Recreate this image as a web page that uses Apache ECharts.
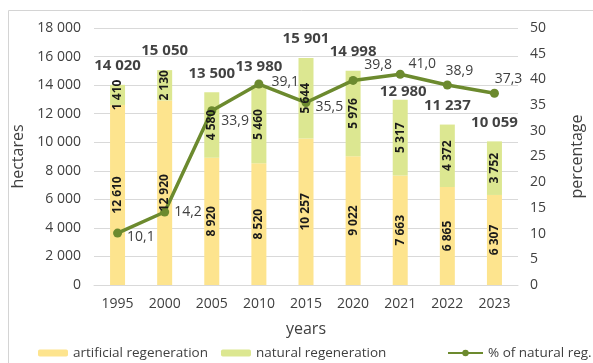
<!DOCTYPE html>
<html><head><meta charset="utf-8">
<script src="https://cdn.jsdelivr.net/npm/echarts@6/dist/echarts.min.js"></script>
<style>html,body{margin:0;padding:0;background:#fff}#c{width:593px;height:363px}</style>
</head><body><div id="c"></div>
<script>
const years = ['1995','2000','2005','2010','2015','2020','2021','2022','2023'];
const artificial = [12610, 12920, 8920, 8520, 10257, 9022, 7663, 6865, 6307];
const natural = [1410, 2130, 4580, 5460, 5644, 5976, 5317, 4372, 3752];
const totals = [14020, 15050, 13500, 13980, 15901, 14998, 12980, 11237, 10059];
const pctNatural = [10.1, 14.2, 33.9, 39.1, 35.5, 39.8, 41.0, 38.9, 37.3];

const FONT = 'Open Sans';
const fmtNum = v => String(v).replace(/\B(?=(\d{3})+(?!\d))/g, ' ');
const fmtPct = v => v.toFixed(1).replace('.', ',');

const pctLabelStyle = [
  {position:'right', offset:[0,4]},
  {position:'right', offset:[0,0]},
  {position:'right', offset:[0,10]},
  {position:'right', offset:[3,-2]},
  {position:'right', offset:[0,4]},
  {position:'top', offset:[25,1]},
  {position:'top', offset:[22,6]},
  {position:'top', offset:[12,2]},
  {position:'top', offset:[14,2]}
];
const totalOffsets = [[0,0],[0,0],[0,0],[0,0],[0,0],[0,0],[3,11],[0,0],[0,0]];

const barLabel = {show:true, position:'inside', rotate:90, fontFamily:FONT, fontWeight:'bold', fontSize:12, color:'#1a1a1a', formatter:p=>fmtNum(p.value)};
const chart = echarts.init(document.getElementById('c'), null, {renderer:'canvas'});
chart.setOption({
  animation:false,
  textStyle:{fontFamily:FONT},
  graphic:[{type:'rect', shape:{x:8.5,y:10.5,width:600,height:400}, style:{fill:'none',stroke:'#d4d4d4',lineWidth:1}, silent:true}],
  grid:{left:94, right:57, top:28, bottom:78},
  legend:[
    {data:['artificial regeneration','natural regeneration'], left:33, top:341, itemWidth:30, itemHeight:7, itemGap:13,
     textStyle:{fontFamily:FONT,fontSize:13.5,color:'#404040'}},
    {data:['% of natural reg.'], left:442, top:341, itemWidth:35, itemHeight:8,
     textStyle:{fontFamily:FONT,fontSize:13.5,color:'#404040'}}
  ],
  xAxis:{type:'category', data:years, name:'years', nameLocation:'middle', nameGap:36,
    nameTextStyle:{fontFamily:FONT,fontSize:16,color:'#404040'},
    axisLine:{lineStyle:{color:'#d9d9d9'}}, axisTick:{show:false},
    axisLabel:{fontFamily:FONT,fontSize:14,color:'#404040',margin:12}},
  yAxis:[
    {type:'value', min:0, max:18000, interval:2000, name:'hectares', nameLocation:'middle', nameGap:68,
     nameTextStyle:{fontFamily:FONT,fontSize:16,color:'#404040'},
     axisLabel:{fontFamily:FONT,fontSize:14,color:'#404040',margin:13, formatter:fmtNum},
     splitLine:{lineStyle:{color:'#d9d9d9'}}, axisLine:{show:false}, axisTick:{show:false}},
    {type:'value', min:0, max:50, interval:5, name:'percentage', nameLocation:'middle', nameGap:51, nameRotate:90,
     nameTextStyle:{fontFamily:FONT,fontSize:16,color:'#404040'},
     axisLabel:{fontFamily:FONT,fontSize:14,color:'#404040',margin:12},
     splitLine:{show:false}, axisLine:{show:false}, axisTick:{show:false}}
  ],
  series:[
    {name:'artificial regeneration', type:'bar', stack:'a', data:artificial, barWidth:15, barGap:'-100%',
     itemStyle:{color:'#fde48e'}, z:2},
    {name:'natural regeneration', type:'bar', stack:'a', data:natural, barWidth:15, barGap:'-100%',
     itemStyle:{color:'#dce791'}, z:2},
    {name:'artLabels', type:'bar', stack:'b', data:artificial, barWidth:15, barGap:'-100%',
     itemStyle:{color:'rgba(0,0,0,0)'}, z:8, label:barLabel, silent:true},
    {name:'natLabels', type:'bar', stack:'b', data:natural, barWidth:15, barGap:'-100%',
     itemStyle:{color:'rgba(0,0,0,0)'}, z:8, label:barLabel, silent:true},
    {name:'total', type:'scatter', data:totals.map((v,i)=>({value:v, label:{offset:totalOffsets[i]}})), symbolSize:1,
     itemStyle:{color:'rgba(0,0,0,0)'}, z:9,
     label:{show:true, position:'top', distance:11, fontFamily:FONT, fontWeight:'bold', fontSize:15, color:'#111', formatter:p=>fmtNum(p.value)}},
    {name:'% of natural reg.', type:'line', yAxisIndex:1,
     data:pctNatural.map((v,i)=>({value:v, label:pctLabelStyle[i]})),
     symbol:'circle', symbolSize:9, lineStyle:{color:'#6c8a2e', width:3.5}, itemStyle:{color:'#6c8a2e'}, z:4,
     label:{show:true, distance:5, fontFamily:FONT, fontSize:14, color:'#404040', formatter:p=>fmtPct(p.value)}}
  ]
});
</script></body></html>
